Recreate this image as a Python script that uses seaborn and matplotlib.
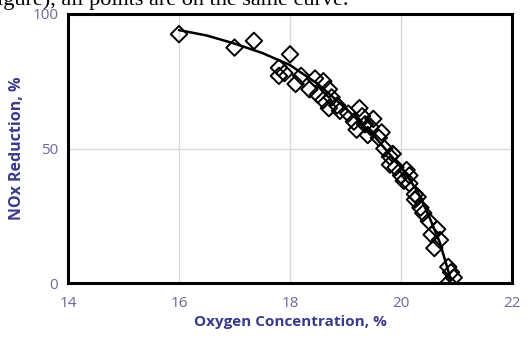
import matplotlib
matplotlib.use("Agg")
import matplotlib.pyplot as plt
import seaborn as sns
import pandas as pd

# scatter data (oxygen %, NOx reduction %)
oxygen = [16.0, 17.0, 17.35, 18.0, 17.8, 17.8, 17.9, 18.1, 18.2, 18.35, 18.45, 18.6,
          18.5, 18.6, 18.7, 18.75, 18.7, 18.85, 18.9, 19.05, 19.15, 19.25, 19.3, 19.2,
          19.35, 19.4, 19.5, 19.45, 19.6, 19.65, 19.7, 19.8, 19.85, 19.8, 19.9, 20.0,
          20.05, 20.1, 20.15, 20.15, 20.25, 20.25, 20.3, 20.35, 20.4, 20.5, 20.55, 20.6,
          20.65, 20.7, 20.85, 20.9, 20.85, 20.95]
nox = [92.5, 87.5, 90, 85, 80, 77, 78, 74, 77, 72, 76, 75,
       70, 68, 72, 69, 65, 66, 64, 63, 60, 65, 62, 57,
       59, 55, 61, 58, 54, 56, 50, 47, 48, 44, 43, 40,
       38, 42, 40, 37, 33, 31, 32, 28, 26, 23, 18, 13,
       20, 16, 6, 4, 0, 2]

# fitted curve
curve_x = [16.0, 16.5, 17.0, 17.5, 18.0, 18.5, 19.0, 19.5, 20.0, 20.3, 20.5, 20.7, 20.9]
curve_y = [94, 92, 89, 85.5, 81, 74, 65, 55, 43, 34, 25, 15, 1]

x_ticks = [14, 16, 18, 20, 22]
y_ticks = [0, 50, 100]

sns.set_theme(style="white")
plt.rcParams['font.family'] = ['Open Sans', 'DejaVu Sans']

fig = plt.figure(figsize=(5.29, 3.41), dpi=100)
ax = fig.add_axes([0.1285, 0.170, 0.8395, 0.789])

pts = pd.DataFrame({"o2": oxygen, "nox": nox})
crv = pd.DataFrame({"o2": curve_x, "nox": curve_y})

sns.lineplot(data=crv, x="o2", y="nox", ax=ax, color="black", lw=1.8, zorder=3)
sns.scatterplot(data=pts, x="o2", y="nox", ax=ax, marker="D", s=70,
                facecolor="none", edgecolor="black", linewidth=1.4, zorder=4)

ax.set_xlim(14, 22)
ax.set_ylim(0, 100)
ax.set_xticks(x_ticks)
ax.set_yticks(y_ticks)
ax.grid(True, color="#d9d9d9", lw=1.0)
for s in ax.spines.values():
    s.set_visible(True)
    s.set_color("black")
    s.set_linewidth(2.2)
ax.tick_params(axis="x", length=0, labelsize=11, colors="#6a6a9a", pad=9)
ax.tick_params(axis="y", length=0, labelsize=11, colors="#6a6a9a", pad=7)
ax.set_xlabel("Oxygen Concentration, %", fontsize=11, fontweight="bold",
              color="#3a3a8c", labelpad=3)
ax.set_ylabel("NOx Reduction, %", fontsize=11.5, fontweight="bold",
              color="#3a3a8c", labelpad=5)

fig.text(-0.005, 1 - 5 / 341, "igure), all points are on the same curve.",
         fontsize=16, family=["Liberation Serif", "DejaVu Serif"], va="baseline", color="black")

fig.savefig("out.png", dpi=100)
